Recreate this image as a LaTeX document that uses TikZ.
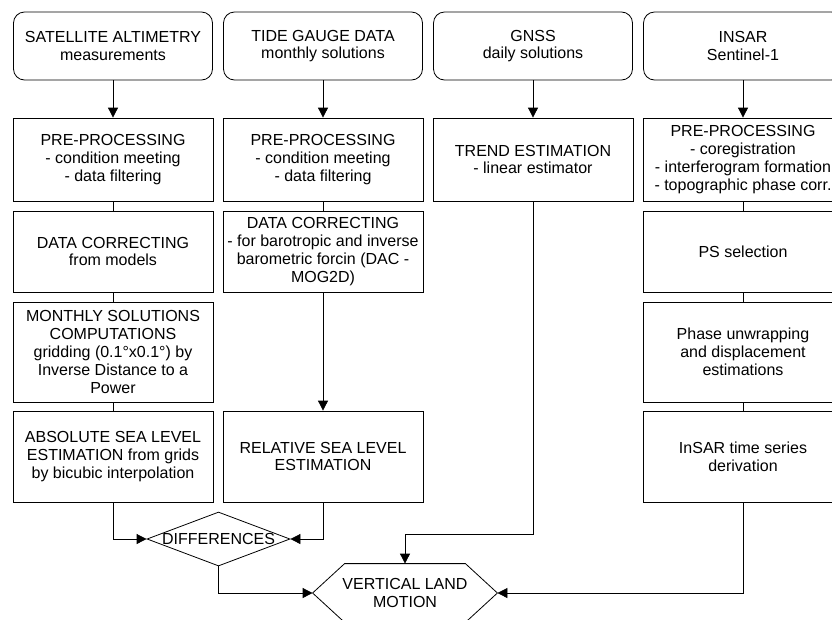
\documentclass[tikz,border=0pt]{standalone}
\usepackage{fontspec}
\setmainfont{Liberation Sans}
\usetikzlibrary{arrows.meta,shapes.geometric}

\begin{document}
\begin{tikzpicture}[x=1pt,y=-1pt,line width=0.8pt,every path/.style={>={Triangle[length=10pt,width=10pt]}},
		every node/.style={font=\fontsize{16}{17.8}\selectfont,align=center,inner sep=0pt},
		srcbox/.style={draw,rounded corners=11pt,minimum width=199pt,minimum height=68pt},
		stepbox/.style={draw,minimum width=200pt}]
		\useasboundingbox (0,0) rectangle (832,619);
		\clip (0,0) rectangle (832,619);
		
		% draw data sources
		\node (sat) at (113,46) [srcbox] {SATELLITE ALTIMETRY\\measurements};
		\node (tide) at (323,46) [srcbox] {TIDE GAUGE DATA\\monthly solutions};
		\node (gnss) at (533,46) [srcbox] {GNSS\\daily solutions};
		\node (insar) at (743,46) [srcbox] {INSAR\\Sentinel-1};
		
		% draw satellite altimetry steps
		\node (sat-pre) at (113,159.5) [stepbox,minimum height=83pt] {PRE-PROCESSING\\- condition meeting\\- data filtering};
		\node (sat-corr) at (113,251.5) [stepbox,minimum height=81pt] {DATA CORRECTING\\from models};
		\node (sat-grid) at (113,352) [stepbox,minimum height=100pt] {MONTHLY SOLUTIONS\\COMPUTATIONS\\gridding (0.1°x0.1°) by\\Inverse Distance to a\\Power};
		\node (sat-abs) at (113,456.5) [stepbox,minimum height=91pt] {ABSOLUTE SEA LEVEL\\ESTIMATION from grids\\by bicubic interpolation};
		
		% draw tide gauge steps
		\node (tide-pre) at (323,159.5) [stepbox,minimum height=83pt] {PRE-PROCESSING\\- condition meeting\\- data filtering};
		\node (tide-corr) at (323,251.5) [stepbox,minimum height=81pt] {DATA CORRECTING\\- for barotropic and inverse\\barometric forcin (DAC -\\MOG2D)};
		\node (tide-rel) at (323,456.5) [stepbox,minimum height=91pt] {RELATIVE SEA LEVEL\\ESTIMATION};
		
		% draw gnss step
		\node (gnss-trend) at (533,159.5) [stepbox,minimum height=83pt] {TREND ESTIMATION\\- linear estimator};
		
		% draw insar steps
		\node (insar-pre) at (743,159.5) [stepbox,minimum height=83pt] {PRE-PROCESSING\\- coregistration\\- interferogram formation\\- topographic phase corr.};
		\node (insar-ps) at (743,251.5) [stepbox,minimum height=81pt] {PS selection};
		\node (insar-unw) at (743,352) [stepbox,minimum height=100pt] {Phase unwrapping\\and displacement\\estimations};
		\node (insar-ts) at (743,456.5) [stepbox,minimum height=91pt] {InSAR time series\\derivation};
		
		% draw differences diamond
		\node (diff) at (218.5,539) [diamond,draw,aspect=2.65,minimum width=143pt,minimum height=54pt] {DIFFERENCES};
		
		% draw vertical land motion hexagon
		\node (vlm) at (405,593) [minimum width=184pt,minimum height=58pt] {VERTICAL LAND\\MOTION};
		\draw (vlm.west) -- ([xshift=32pt]vlm.north west) -- ([xshift=-32pt]vlm.north east) -- (vlm.east)
			-- ([xshift=-32pt]vlm.south east) -- ([xshift=32pt]vlm.south west) -- cycle;
		
		% draw arrows from sources
		\foreach \a/\b in {sat/sat-pre,tide/tide-pre,gnss/gnss-trend,insar/insar-pre}
		{
			\draw[->] (\a) -- (\b);
		}
		
		% draw lines between steps
		\foreach \a/\b in {sat-pre/sat-corr,sat-corr/sat-grid,sat-grid/sat-abs,tide-pre/tide-corr,insar-pre/insar-ps,insar-ps/insar-unw,insar-unw/insar-ts}
		{
			\draw (\a) -- (\b);
		}
		\draw[->] (tide-corr) -- (tide-rel);
		
		% draw lines to differences and vertical land motion
		\draw[->] (sat-abs.south) |- (diff.west);
		\draw[->] (tide-rel.south) |- (diff.east);
		\draw[->] (diff.south) |- (vlm.west);
		\coordinate (gnss-bend) at (405,534);
		\draw[->] (gnss-trend.south) |- (gnss-bend) -- (vlm.north);
		\draw[->] (insar-ts.south) |- (vlm.east);
	\end{tikzpicture}
\end{document}
